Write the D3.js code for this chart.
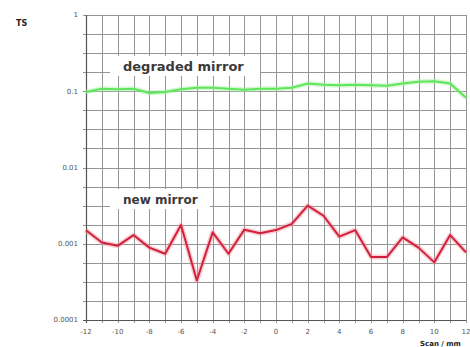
<!DOCTYPE html>
<html>
<head>
<meta charset="utf-8">
<script src="https://cdn.jsdelivr.net/npm/d3@7"></script>
<style>
  body { margin: 0; background: #fff; }
  svg { display: block; font-family: "DejaVu Sans", sans-serif; }
</style>
</head>
<body>
<svg width="470" height="347"></svg>
<script>
const scan = d3.range(-12, 13);
const degraded = [0.098, 0.108, 0.106, 0.108, 0.095, 0.098, 0.106, 0.111, 0.111, 0.108, 0.105, 0.108, 0.108,
                  0.111, 0.126, 0.122, 0.120, 0.122, 0.120, 0.118, 0.126, 0.133, 0.135, 0.126, 0.082];
const newMirror = [0.0015, 0.00104, 0.00094, 0.0013, 0.00089, 0.00074, 0.00176, 0.00033, 0.00141, 0.00074,
                   0.00153, 0.00137, 0.00151, 0.00182, 0.00316, 0.00233, 0.00124, 0.00151, 0.00067, 0.00067,
                   0.00121, 0.00089, 0.00057, 0.0013, 0.00077];
const yTicks = [1, 0.1, 0.01, 0.001, 0.0001];
const yTickLabels = ["1", "0.1", "0.01", "0.001", "0.0001"];
const xTicks = [-12, -10, -8, -6, -4, -2, 0, 2, 4, 6, 8, 10, 12];
const seriesLabels = ["degraded mirror", "new mirror"];

const svg = d3.select("svg");
const plot = {left: 86, right: 466, top: 15, bottom: 320};

const x = d3.scaleLinear().domain([-12, 12]).range([plot.left, plot.right]);
const y = d3.scaleLog().domain([0.0001, 1]).range([plot.bottom, plot.top]);

// grid
const grid = svg.append("g").attr("stroke", "#959595").attr("stroke-width", 1);
grid.selectAll(".v")
  .data(scan)
  .enter().append("line")
    .attr("x1", d => Math.round(x(d)) + 0.5)
    .attr("x2", d => Math.round(x(d)) + 0.5)
    .attr("y1", plot.top)
    .attr("y2", plot.bottom + 3);
grid.selectAll(".h")
  .data(d3.range(-16, 1).map(k => Math.pow(10, k / 4)))
  .enter().append("line")
    .attr("x1", plot.left - 3)
    .attr("x2", plot.right)
    .attr("y1", d => Math.round(y(d)) + 0.5)
    .attr("y2", d => Math.round(y(d)) + 0.5);

// axes lines
svg.append("line").attr("x1", plot.left + 0.5).attr("x2", plot.left + 0.5)
  .attr("y1", plot.top).attr("y2", plot.bottom + 3)
  .attr("stroke", "#555").attr("stroke-width", 1.2);
svg.append("line").attr("x1", plot.left - 3).attr("x2", plot.right)
  .attr("y1", plot.bottom + 0.5).attr("y2", plot.bottom + 0.5)
  .attr("stroke", "#555").attr("stroke-width", 1.2);

// y labels
svg.selectAll(".ylab")
  .data(yTicks)
  .enter().append("text")
    .attr("x", plot.left - 8)
    .attr("y", d => y(d))
    .attr("dy", "0.35em")
    .attr("text-anchor", "end")
    .style("font-size", "7px")
    .style("fill", "#555")
    .text((d, i) => yTickLabels[i]);

// x labels
svg.selectAll(".xlab")
  .data(xTicks)
  .enter().append("text")
    .attr("x", d => x(d))
    .attr("y", plot.bottom + 14)
    .attr("text-anchor", "middle")
    .style("font-size", "7px")
    .style("fill", "#555")
    .text(d => d);

svg.append("text")
  .attr("x", 16).attr("y", 26)
  .style("font-size", "8px").style("font-weight", "bold").style("fill", "#222")
  .text("TS");

svg.append("text")
  .attr("x", 420).attr("y", 346)
  .style("font-size", "7px").style("font-weight", "bold").style("fill", "#222")
  .text("Scan / mm");

// series labels with white backing
const labelPos = [{lx: 123, ly: 71, bx: 110, bw: 150}, {lx: 123, ly: 204, bx: 110, bw: 100}];
labelPos.forEach(function(p, i) {
  svg.append("rect")
    .attr("x", p.bx).attr("y", p.ly - 15)
    .attr("width", p.bw).attr("height", 20)
    .attr("fill", "#fff");
  svg.append("text")
    .attr("x", p.lx).attr("y", p.ly)
    .style("font-size", i === 0 ? "13px" : "12px")
    .style("font-weight", "bold")
    .style("fill", "#3a3a3a")
    .text(seriesLabels[i]);
});

const line = d3.line().x((d, i) => x(scan[i])).y(d => y(d));

function drawSeries(values, glow, core) {
  svg.append("path").attr("d", line(values))
    .attr("fill", "none").attr("stroke", glow).attr("stroke-width", 5)
    .attr("stroke-opacity", 0.45).attr("stroke-linejoin", "round");
  svg.append("path").attr("d", line(values))
    .attr("fill", "none").attr("stroke", core).attr("stroke-width", 2)
    .attr("stroke-linejoin", "round");
}
drawSeries(degraded, "#a6f0a0", "#5ee65a");
drawSeries(newMirror, "#f2909c", "#d2203c");
</script>
</body>
</html>
